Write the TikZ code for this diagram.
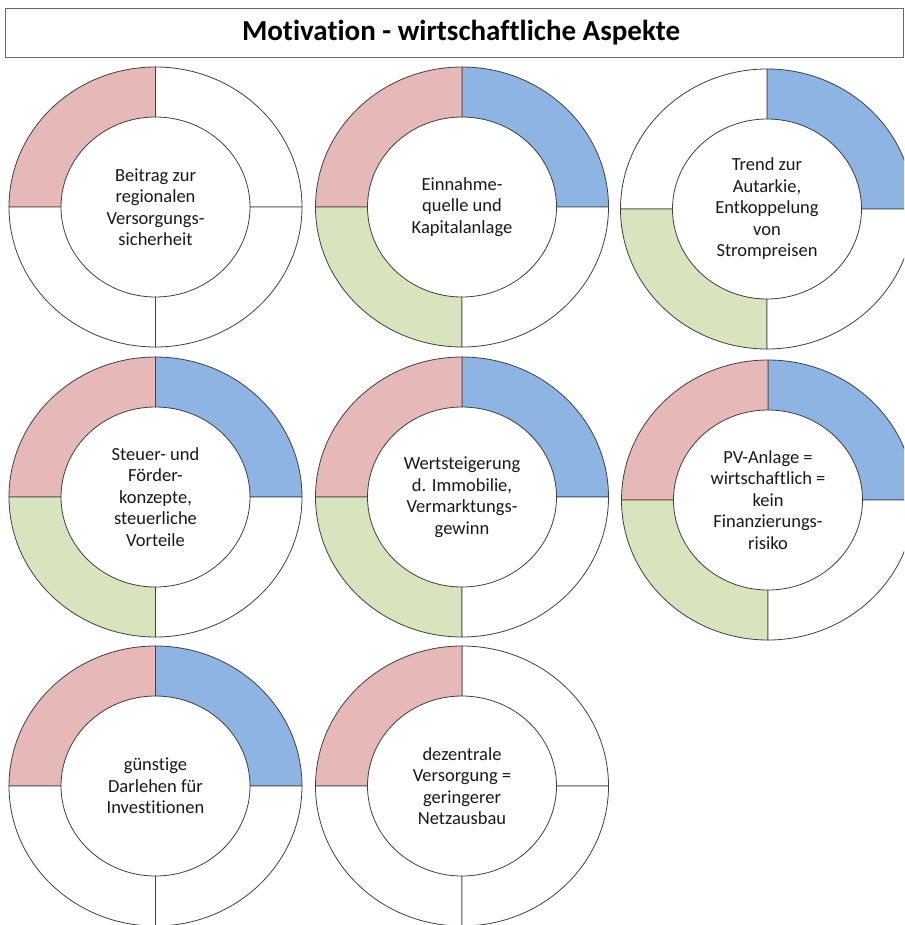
\documentclass[tikz,border=0pt]{standalone}
\usepackage{fontspec}
\setmainfont[Ligatures=NoCommon]{Carlito}
\usetikzlibrary{calc}
\definecolor{qpink}{HTML}{E6B9B8}
\definecolor{qblue}{HTML}{8EB4E3}
\definecolor{qgreen}{HTML}{D7E4BD}
\tikzset{
  seg/.style={draw=black!75, line width=0.8pt, line join=round},
  lbl/.style={align=center, inner sep=0pt, font=\fontsize{18.5}{21.5}\selectfont, text=black!90},
  ttlbox/.style={draw=black!60, line width=0.8pt, minimum width=898pt, minimum height=49pt, inner sep=0pt},
  ttl/.style={inner sep=0pt, font=\fontsize{29}{32}\selectfont\bfseries}
}
\newcommand\quadseg[4]{%
  \path[seg, fill=#4] ($(#1)+(#2:146.5pt and 140pt)$)
    arc[start angle=#2, end angle=#3, x radius=146.5pt, y radius=140pt]
    -- ($(#1)+(#3:94.5pt and 90pt)$)
    arc[start angle=#3, end angle=#2, x radius=94.5pt, y radius=90pt] -- cycle;}
\newcommand\donut[7]{%
  \coordinate (#1c) at (#2);
  \quadseg{#1c}{0}{90}{#4}
  \quadseg{#1c}{90}{180}{#3}
  \quadseg{#1c}{180}{270}{#5}
  \quadseg{#1c}{270}{360}{#6}
  \node[lbl] (#1) at (#1c) {#7};}
\begin{document}
\begin{tikzpicture}[x=1pt,y=1pt]
\useasboundingbox (0,0) rectangle (904,-925);
\clip (0,0) rectangle (904,-925);
\fill[white] (0,0) rectangle (904,-925);
\node[ttlbox] (titlebox) at (454,-32.5) {};
\node[ttl] (title) at (461,-32.5) {Motivation - wirtschaftliche Aspekte};

\donut{c1}{155.5,-207}{qpink}{white}{white}{white}{Beitrag zur\\regionalen\\Versorgungs-\\sicherheit}
\donut{c2}{462,-207}{qpink}{qblue}{qgreen}{white}{Einnahme-\\quelle und\\Kapitalanlage}
\donut{c3}{767,-209}{white}{qblue}{qgreen}{white}{Trend zur\\Autarkie,\\Entkoppelung\\von\\Strompreisen}

\donut{c4}{155.5,-497}{qpink}{qblue}{qgreen}{white}{Steuer- und\\Förder-\\konzepte,\\steuerliche\\Vorteile}
\donut{c5}{462,-497}{qpink}{qblue}{qgreen}{white}{Wertsteigerung\\d. Immobilie,\\Vermarktungs-\\gewinn}
\donut{c6}{768,-500}{qpink}{qblue}{qgreen}{white}{PV-Anlage =\\wirtschaftlich =\\kein\\Finanzierungs-\\risiko}

\donut{c7}{155.5,-786}{qpink}{qblue}{white}{white}{günstige\\Darlehen für\\Investitionen}
\donut{c8}{462,-786}{qpink}{white}{white}{white}{dezentrale\\Versorgung =\\geringerer\\Netzausbau}
\end{tikzpicture}
\end{document}
